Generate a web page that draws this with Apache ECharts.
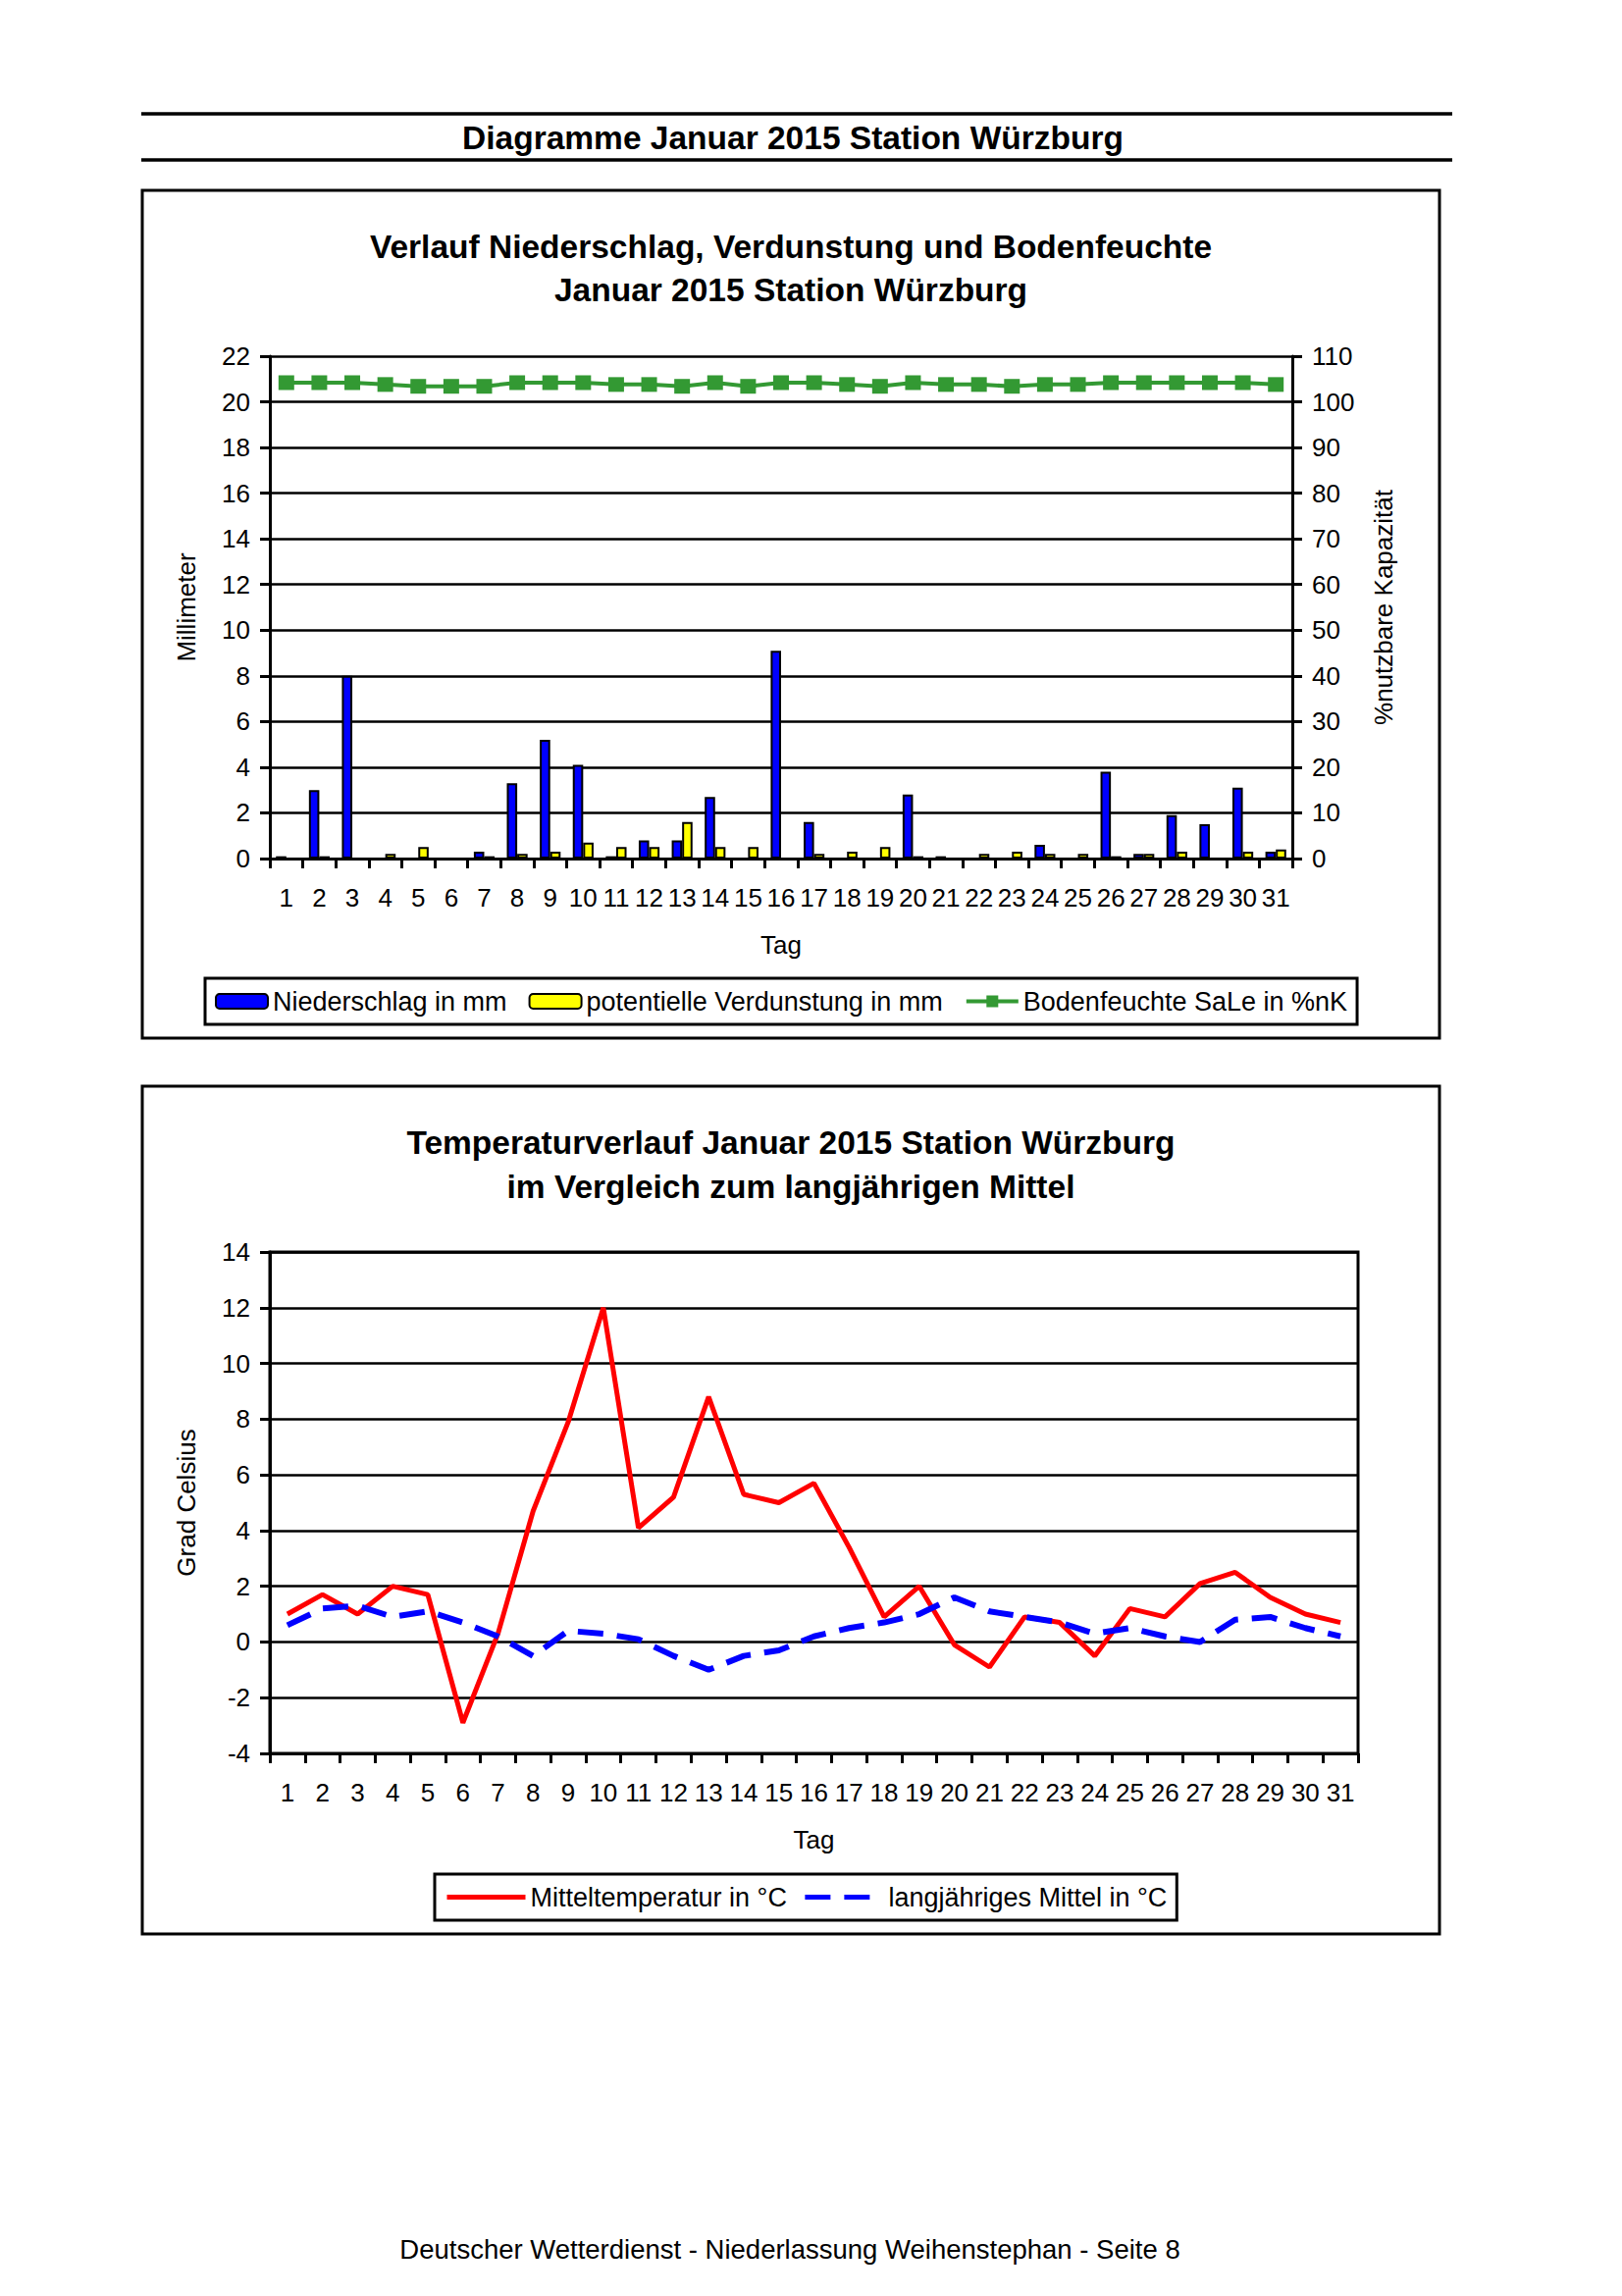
<!DOCTYPE html>
<html>
<head>
<meta charset="utf-8">
<script src="https://cdn.jsdelivr.net/npm/echarts@6/dist/echarts.min.js"></script>
<style>
html,body{margin:0;padding:0;background:#fff;}
#c{width:1653px;height:2340px;}
</style>
</head>
<body>
<div id="c"></div>
<script>
// ---- data ----
const days = ['1','2','3','4','5','6','7','8','9','10','11','12','13','14','15','16','17','18','19','20','21','22','23','24','25','26','27','28','29','30','31'];
const niederschlag = [0.1,3.0,8.0,0,0,0,0.3,3.3,5.2,4.1,0.1,0.8,0.8,2.7,0,9.1,1.6,0,0,2.8,0.1,0,0,0.6,0,3.8,0.2,1.9,1.5,3.1,0.3];
const verdunstung = [0,0.1,0,0.2,0.5,0,0.1,0.2,0.3,0.7,0.5,0.5,1.6,0.5,0.5,0,0.2,0.3,0.5,0.1,0,0.2,0.3,0.2,0.2,0.1,0.2,0.3,0,0.3,0.4];
const bodenfeuchte = [104.2,104.2,104.2,103.8,103.4,103.4,103.4,104.2,104.2,104.2,103.8,103.8,103.4,104.2,103.4,104.2,104.2,103.8,103.4,104.2,103.8,103.8,103.4,103.8,103.8,104.2,104.2,104.2,104.2,104.2,103.8];
const mitteltemp = [1.0,1.7,1.0,2.0,1.7,-2.9,0.3,4.7,7.9,12.0,4.1,5.2,8.8,5.3,5.0,5.7,3.4,0.9,2.0,-0.1,-0.9,0.9,0.7,-0.5,1.2,0.9,2.1,2.5,1.6,1.0,0.7];
const langMittel = [0.6,1.2,1.3,0.9,1.1,0.7,0.2,-0.5,0.4,0.3,0.1,-0.5,-1.0,-0.5,-0.3,0.2,0.5,0.7,1.0,1.6,1.1,0.9,0.7,0.3,0.5,0.2,0.0,0.8,0.9,0.5,0.2];

const FONT = '"Liberation Sans", Arial, sans-serif';
const chart = echarts.init(document.getElementById('c'), null, {renderer:'svg', width:1653, height:2340});

function txt(s, x, y, size, bold){
  return {type:'text', x:x, y:y, silent:true,
    style:{text:s, fill:'#000', font:(bold?'bold ':'')+size+'px '+FONT, align:'center', verticalAlign:'middle'}};
}
function hline(x1,x2,y,w){
  return {type:'line', silent:true, shape:{x1:x1,y1:y,x2:x2,y2:y}, style:{stroke:'#000', lineWidth:w}};
}
function box(x,y,w,h){
  return {type:'rect', silent:true, shape:{x:x,y:y,width:w,height:h}, style:{fill:'none', stroke:'#000', lineWidth:3}};
}

const axisTxt = {color:'#000', fontSize:26, fontFamily:FONT};
function catAxis(gi){
  return {type:'category', gridIndex:gi, data:days, boundaryGap:true,
    axisLine:{onZero:false, lineStyle:{color:'#000', width:3}},
    axisTick:{show:true, length:10, lineStyle:{color:'#000', width:3}, alignWithLabel:false, interval:0},
    axisLabel:Object.assign({interval:0, margin:27}, axisTxt),
    name:'Tag', nameLocation:'middle', nameGap:75, nameTextStyle:axisTxt};
}
const legendTxt = {color:'#000', fontSize:27, fontFamily:FONT};

const option = {
  animation:false,
  backgroundColor:'#fff',
  textStyle:{fontFamily:FONT},
  graphic:[
    hline(144,1480,116,3.5),
    hline(144,1480,163,3.5),
    txt('Diagramme Januar 2015 Station Würzburg', 808, 140, 33.5, true),
    box(145,194,1322,864),
    txt('Verlauf Niederschlag, Verdunstung und Bodenfeuchte', 806, 251, 33.5, true),
    txt('Januar 2015 Station Würzburg', 806, 295, 33.5, true),
    box(145,1107,1322,864),
    txt('Temperaturverlauf Januar 2015 Station Würzburg', 806, 1164, 33.5, true),
    txt('im Vergleich zum langjährigen Mittel', 806, 1209, 33.5, true),
    txt('Deutscher Wetterdienst - Niederlassung Weihenstephan - Seite 8', 805, 2292, 27.5, false)
  ],
  grid:[
    {left:275, top:363, width:1042, height:512},
    {left:275, top:1276, width:1109, height:511, show:true, borderColor:'#000', borderWidth:3, backgroundColor:'transparent'}
  ],
  legend:[
    {data:['Niederschlag in mm','potentielle Verdunstung in mm','Bodenfeuchte SaLe in %nK'],
     left:209, top:997, padding:[10,10,10,10], borderColor:'#000', borderWidth:3,
     itemWidth:53, itemHeight:15, itemGap:22, textStyle:legendTxt,
     lineStyle:{width:4}},
    {data:['Mitteltemperatur in °C','langjähriges Mittel in °C'],
     left:443, top:1910, padding:[10,10,10,10], borderColor:'#000', borderWidth:3,
     itemWidth:80, itemHeight:14, itemGap:16, textStyle:legendTxt,
     lineStyle:{width:5}, itemStyle:{opacity:0}}
  ],
  xAxis:[catAxis(0), catAxis(1)],
  yAxis:[
    {type:'value', gridIndex:0, min:0, max:22, interval:2, position:'left',
     axisLine:{show:true, lineStyle:{color:'#000', width:3}},
     axisTick:{show:true, length:10, lineStyle:{color:'#000', width:3}},
     axisLabel:Object.assign({margin:20}, axisTxt),
     splitLine:{show:true, lineStyle:{color:'#000', width:2.5}},
     name:'Millimeter', nameLocation:'middle', nameGap:72, nameRotate:90, nameTextStyle:axisTxt},
    {type:'value', gridIndex:0, min:0, max:110, interval:10, position:'right',
     axisLine:{show:true, lineStyle:{color:'#000', width:3}},
     axisTick:{show:true, length:10, lineStyle:{color:'#000', width:3}},
     axisLabel:Object.assign({margin:20, align:'left'}, axisTxt),
     splitLine:{show:false},
     name:'%nutzbare Kapazität', nameLocation:'middle', nameGap:80, nameRotate:90, nameTextStyle:axisTxt},
    {type:'value', gridIndex:1, min:-4, max:14, interval:2, position:'left',
     axisLine:{show:true, onZero:false, lineStyle:{color:'#000', width:3}},
     axisTick:{show:true, length:10, lineStyle:{color:'#000', width:3}},
     axisLabel:Object.assign({margin:20}, axisTxt),
     splitLine:{show:true, lineStyle:{color:'#000', width:2.5}},
     name:'Grad Celsius', nameLocation:'middle', nameGap:72, nameRotate:90, nameTextStyle:axisTxt}
  ],
  series:[
    {name:'Niederschlag in mm', type:'bar', xAxisIndex:0, yAxisIndex:0, data:niederschlag,
     barGap:'0%', barCategoryGap:'37%',
     itemStyle:{color:'#0000FF', borderColor:'#000', borderWidth:2}},
    {name:'potentielle Verdunstung in mm', type:'bar', xAxisIndex:0, yAxisIndex:0, data:verdunstung,
     barGap:'0%', barCategoryGap:'37%',
     itemStyle:{color:'#FFFF00', borderColor:'#000', borderWidth:2}},
    {name:'Bodenfeuchte SaLe in %nK', type:'line', xAxisIndex:0, yAxisIndex:1, data:bodenfeuchte,
     symbol:'rect', symbolSize:[16,15], lineStyle:{color:'#339933', width:4},
     itemStyle:{color:'#339933'}},
    {name:'Mitteltemperatur in °C', type:'line', xAxisIndex:1, yAxisIndex:2, data:mitteltemp,
     symbol:'none', lineStyle:{color:'#FF0000', width:5}, itemStyle:{color:'#FF0000'}},
    {name:'langjähriges Mittel in °C', type:'line', xAxisIndex:1, yAxisIndex:2, data:langMittel,
     symbol:'none', lineStyle:{color:'#0000FF', width:6, type:[26,14]}, itemStyle:{color:'#0000FF'}}
  ]
};
chart.setOption(option);
</script>
</body>
</html>
